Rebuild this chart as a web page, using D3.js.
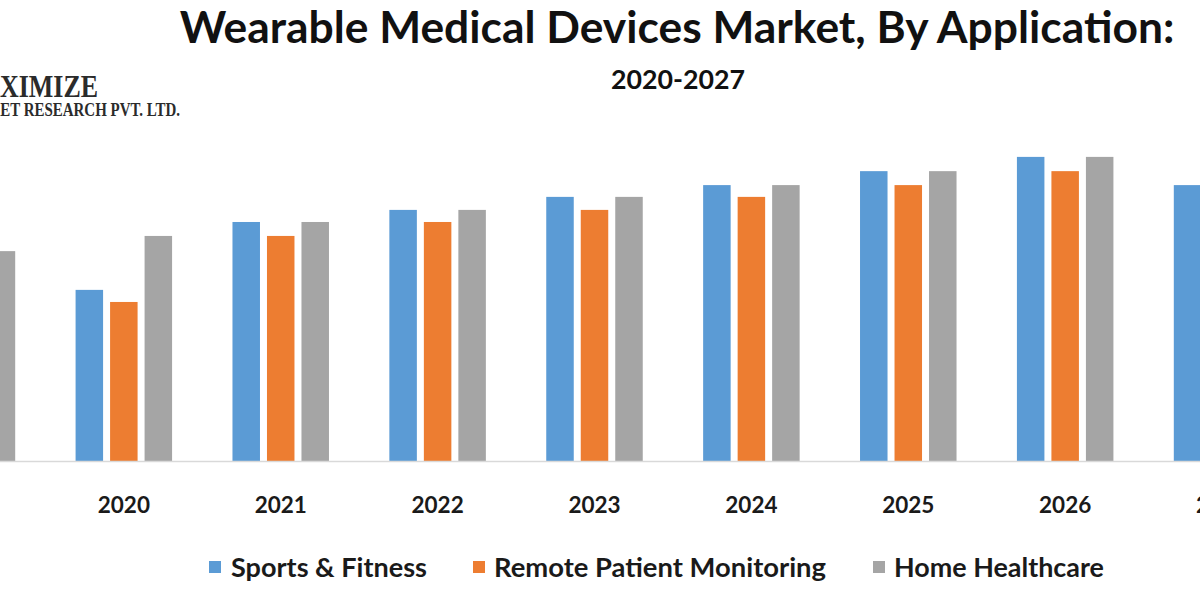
<!DOCTYPE html>
<html>
<head>
<meta charset="utf-8">
<script src="https://cdn.jsdelivr.net/npm/d3@7/dist/d3.min.js"></script>
<style>
  html, body { margin: 0; padding: 0; background: #ffffff; overflow: hidden; }
  svg { display: block; }
</style>
</head>
<body>
<svg id="chart" width="1200" height="600"></svg>
<script>
// ---- data ----
const categories = ["2019", "2020", "2021", "2022", "2023", "2024", "2025", "2026", "2027"];
const seriesNames = ["Sports & Fitness", "Remote Patient Monitoring", "Home Healthcare"];
const sportsFitness   = [62.5, 55.2, 77.1, 81.0, 85.2, 89.0, 93.5, 98.1, 89.0];
const remoteMonitoring = [58.0, 51.3, 72.6, 77.1, 81.0, 85.2, 89.0, 93.5, 85.2];
const homeHealthcare  = [67.7, 72.6, 77.1, 81.0, 85.2, 89.0, 93.5, 98.1, 89.0];
const seriesColors = ["#5B9BD5", "#ED7D31", "#A5A5A5"];
const titleText = "Wearable Medical Devices Market, By Application:";
const subtitleText = "2020-2027";

const seriesValues = [sportsFitness, remoteMonitoring, homeHealthcare];
const svg = d3.select("#chart");

// ---- scales ----
const baseY = 461;
const y = d3.scaleLinear().domain([0, 100]).range([baseY, 151]);
const x0 = d3.scaleBand().domain(categories).range([-111.5, 1300.5]).paddingInner(0).paddingOuter(0);
const x1 = d3.scaleBand().domain(seriesNames).range([-48.25, 48.25]).paddingInner(0.2029).paddingOuter(0);
const color = d3.scaleOrdinal().domain(seriesNames).range(seriesColors);

// ---- bars ----
const rows = [];
categories.forEach((c, i) => {
  seriesNames.forEach((s, j) => rows.push({ cat: c, series: s, value: seriesValues[j][i] }));
});
svg.append("g").selectAll("rect").data(rows).join("rect")
  .attr("x", d => x0(d.cat) + x0.bandwidth() / 2 + x1(d.series))
  .attr("width", x1.bandwidth())
  .attr("y", d => y(d.value))
  .attr("height", d => y(0) - y(d.value))
  .attr("fill", d => color(d.series));

// ---- x axis ----
const xAxis = d3.axisBottom(x0).tickSize(0).tickPadding(0);
const ax = svg.append("g").attr("transform", `translate(0,${baseY})`).call(xAxis);
ax.select(".domain").attr("stroke", "#d9d9d9").attr("stroke-width", 1.5).attr("d", "M0,0.5H1200");
ax.selectAll("text")
  .attr("dy", null).attr("y", 52)
  .attr("font-family", "Lato, 'Open Sans', sans-serif")
  .attr("font-weight", "bold").attr("font-size", 22.5)
  .attr("fill", "#1a1a1a");

// ---- helpers ----
function fitText(sel, targetWidth) {
  const fs = parseFloat(sel.attr("font-size"));
  const w = sel.node().getComputedTextLength();
  sel.attr("font-size", (fs * targetWidth / w).toFixed(2));
}

// ---- title ----
const title = svg.append("text")
  .attr("x", 677).attr("y", 43).attr("text-anchor", "middle")
  .attr("font-family", "Lato, 'Open Sans', sans-serif").attr("font-weight", "bold")
  .attr("font-size", 36).attr("fill", "#111").text(titleText);
fitText(title, 995);

const sub = svg.append("text")
  .attr("x", 678).attr("y", 89).attr("text-anchor", "middle")
  .attr("font-family", "Lato, 'Open Sans', sans-serif").attr("font-weight", "bold")
  .attr("font-size", 22).attr("fill", "#111").text(subtitleText);
fitText(sub, 134);

// ---- logo text (cut off at left edge) ----
function condensedLogo(text, hiddenChars, rightX, baseline, fs, visibleWidth) {
  const g = svg.append("g");
  const t = g.append("text")
    .attr("x", 0).attr("y", 0).attr("text-anchor", "end")
    .attr("font-family", "'Liberation Serif', 'DejaVu Serif', serif").attr("font-weight", "bold")
    .attr("font-size", fs).attr("fill", "#2b2b2b").text(text);
  const n = t.node();
  const vis = n.getSubStringLength(hiddenChars, text.length - hiddenChars);
  const sx = visibleWidth / vis;
  g.attr("transform", `translate(${rightX},${baseline}) scale(${sx.toFixed(3)},1)`);
}
condensedLogo("MAXIMIZE", 2, 98, 97, 32, 98);
condensedLogo("MARKET RESEARCH PVT. LTD.", 4, 180, 116, 18, 180);

// ---- legend ----
const legendItems = [
  { name: seriesNames[0], sx: 209, tx: 231, tw: 196 },
  { name: seriesNames[1], sx: 473, tx: 494, tw: 332 },
  { name: seriesNames[2], sx: 873, tx: 894, tw: 210 }
];
const lg = svg.append("g");
legendItems.forEach(it => {
  lg.append("rect").attr("x", it.sx).attr("y", 561).attr("width", 12).attr("height", 12)
    .attr("fill", color(it.name));
  const t = lg.append("text").attr("x", it.tx).attr("y", 577)
    .attr("font-family", "Lato, 'Open Sans', sans-serif").attr("font-weight", "bold")
    .attr("font-size", 24).attr("fill", "#1a1a1a").text(it.name);
  fitText(t, it.tw);
});
</script>
</body>
</html>
